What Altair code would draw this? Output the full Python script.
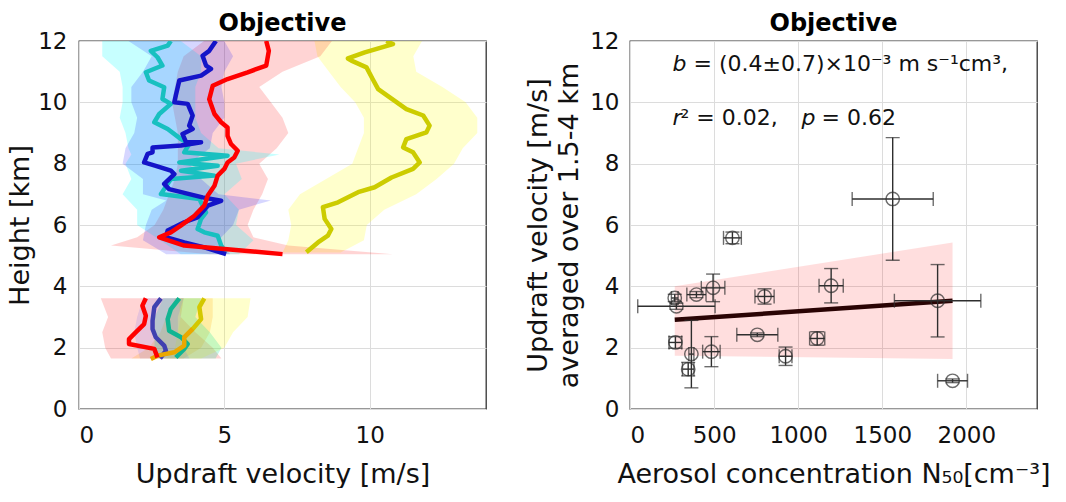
import altair as alt
import pandas as pd

# ---------------- Left panel: profiles ----------------
# upper (cloud) profiles: x = updraft velocity [m/s], y = height [km]
RU_x = [6.44,6.53,6.44,5.8,5.11,4.6,4.48,4.66,4.89,5.11,5.11,5.23,5.46,5.34,5.11,5.0,4.77,4.66,4.43,4.31,3.97,3.5,3.16,2.76,3.62,5.0,7.0]
RU_y = [12.0,11.68,11.2,10.98,10.76,10.54,10.1,9.62,9.35,9.18,8.91,8.64,8.42,8.2,8.04,7.83,7.61,7.28,6.96,6.63,6.3,5.98,5.76,5.6,5.33,5.22,5.05]
BU_x = [4.71,4.48,4.25,4.37,4.54,4.2,3.45,3.33,3.28,3.74,3.91,3.79,3.91,3.56,3.68,4.2,3.51,2.53,2.53,2.36,2.24,2.64,3.16,3.28,2.93,3.1,4.25,4.89,4.43,4.08,3.62,3.05,2.99,3.62,4.31,5.06]
BU_y = [12.0,11.68,11.52,11.2,11.09,10.87,10.71,10.22,10.0,9.95,9.57,9.24,9.13,8.97,8.7,8.7,8.59,8.53,8.37,8.32,8.04,7.93,7.77,7.66,7.34,7.17,6.9,6.79,6.63,6.25,6.09,5.82,5.6,5.43,5.27,5.05]
CU_x = [3.16,3.05,2.47,2.7,2.87,2.3,2.41,2.93,2.87,3.16,2.76,2.59,3.05,3.51,3.79,3.62,5.11,3.45,4.77,3.51,4.66,3.16,2.93,2.82,4.14,4.37,4.2,4.08,4.31,4.77,4.89,5.06]
CU_y = [12.0,11.85,11.68,11.47,11.2,10.98,10.71,10.49,10.11,9.95,9.62,9.35,9.13,8.8,8.64,8.37,8.26,8.04,7.93,7.77,7.61,7.5,7.17,7.01,6.85,6.41,6.2,5.87,5.76,5.65,5.33,5.11]
YU_x = [10.57,10.8,9.83,9.25,9.37,9.89,10.1,10.29,10.69,11.26,11.84,12.06,11.95,11.26,11.15,11.49,11.72,11.49,10.75,10.17,9.6,8.91,8.39,8.45,8.68,8.56,8.22,7.82]
YU_y = [12.0,11.9,11.63,11.43,11.36,11.14,10.76,10.43,10.16,9.78,9.57,9.24,9.02,8.8,8.53,8.37,8.04,7.83,7.55,7.23,7.07,6.74,6.58,6.2,5.87,5.65,5.43,5.11]

# lower (sub-cloud) profiles
RL_x = [2.3,2.18,2.3,2.24,1.95,1.72,1.72,2.59,2.7]
RL_y = [3.61,3.37,3.04,2.77,2.5,2.28,2.12,1.96,1.68]
BL_x = [2.82,2.59,2.53,2.53,2.64,2.93,2.99,2.79]
BL_y = [3.61,3.32,2.88,2.61,2.34,2.07,1.9,1.65]
TL_x = [3.45,3.16,3.05,3.1,3.51,3.74,3.62,3.33]
TL_y = [3.61,3.26,2.93,2.55,2.34,2.12,1.96,1.68]
YL_x = [4.31,4.14,4.2,3.91,3.62]
YL_y = [3.61,3.32,2.93,2.61,2.34]
OL_x = [3.91,3.62,3.62,3.28,2.7,2.47]
OL_y = [2.61,2.34,2.07,1.85,1.74,1.63]

# shaded spread bands (height, low, high)
RUB_y = [5.05,5.33,5.6,6.0,6.5,7.0,7.5,8.0,8.5,9.0,9.5,10.0,10.5,11.0,11.5,12.0]
RUB_lo = [4.5,1.1,2.0,2.6,2.9,3.1,3.3,3.4,3.4,3.4,3.3,3.2,3.3,3.4,3.6,4.3]
RUB_hi = [10.8,7.2,6.0,5.8,6.0,6.3,6.5,6.2,6.8,7.2,7.0,6.6,6.2,7.0,8.3,8.7]
BUB_y = [5.05,5.5,6.0,6.5,6.8,7.0,7.5,8.0,8.5,9.0,9.5,10.0,10.5,11.0,11.5,12.0]
BUB_lo = [3.0,2.2,2.3,2.5,3.0,2.2,2.2,1.5,1.6,1.9,2.0,1.8,1.8,2.2,2.5,1.7]
BUB_hi = [5.2,4.8,5.3,5.5,6.6,4.8,4.2,3.8,4.5,4.6,5.0,5.0,4.9,5.0,5.3,5.0]
CUB_y = [5.05,5.5,6.0,6.5,7.0,7.5,8.0,8.3,8.5,9.0,9.5,10.0,10.5,11.0,11.5,12.0]
CUB_lo = [3.5,2.8,2.0,2.0,1.5,1.8,1.6,1.8,1.7,1.6,1.4,1.5,1.5,1.4,0.8,0.8]
CUB_hi = [5.5,6.0,5.4,5.5,5.0,5.6,5.4,6.9,4.8,4.2,4.0,4.0,4.0,4.2,4.2,3.5]
YUB_y = [5.1,5.5,6.0,6.5,7.0,7.5,8.0,8.5,9.0,9.5,10.0,10.5,11.0,11.5,12.0]
YUB_lo = [7.0,7.2,7.3,7.2,7.6,8.5,9.4,9.6,9.8,9.8,9.5,9.0,8.6,8.2,8.1]
YUB_hi = [9.0,9.8,9.9,10.5,11.6,12.3,12.9,13.2,13.7,13.7,13.3,12.5,11.6,11.5,11.8]

LB_y = [1.65,2.0,2.5,3.0,3.61]
RLB_lo = [1.1,0.9,0.8,1.0,0.75]
RLB_hi = [4.9,4.6,4.0,3.5,3.6]
BLB_lo = [2.1,2.0,1.9,2.0,2.2]
BLB_hi = [3.8,3.6,3.4,3.4,3.6]
TLB_lo = [2.8,2.6,2.6,2.6,2.9]
TLB_hi = [4.7,4.9,4.5,4.0,4.2]
YLB_lo = [3.0,3.3,3.4,3.5,3.4]
YLB_hi = [4.2,5.0,5.3,5.8,5.9]
OLB_lo = [1.8,2.4,2.8,3.0,3.3]
OLB_hi = [3.6,4.2,4.5,4.6,4.6]

# ---------------- Right panel: scatter ----------------
N50 = [266,276,365,346,270,395,494,484,609,800,757,925,1113,1196,1562,1829,1918]
W = [3.62,3.35,1.79,1.30,2.17,3.73,3.95,1.87,5.58,3.67,2.42,1.72,2.30,4.02,6.85,3.53,0.92]
N50_ERR = [20,230,15,34,38,57,70,52,53,57,122,38,45,72,241,257,89]
W_ERR = [0.12,0.1,1.1,0.22,0.19,0.1,0.45,0.49,0.19,0.25,0.06,0.3,0.22,0.56,2.0,1.18,0.06]
FIT_X = [266,1918]
FIT_Y = [2.91,3.53]
FIT_LO = [1.74,1.63]
FIT_HI = [4.0,5.43]

ANNOT_X = 253
ANNOT_Y = [11.03, 9.26]

FONT = "DejaVu Sans"

# ---------------- scales / axes ----------------
lx = alt.Scale(domain=[0, 14], nice=False, zero=False)
ly = alt.Scale(domain=[0, 12], nice=False, zero=False)
lxa = alt.Axis(values=[0, 5, 10], title="Updraft velocity [m/s]", labelPadding=15, titlePadding=14)
lya = alt.Axis(values=[0, 2, 4, 6, 8, 10, 12], title="Height [km]", labelPadding=12, titlePadding=3)

rx = alt.Scale(domain=[0, 2420], nice=False, zero=False)
ry = alt.Scale(domain=[0, 12], nice=False, zero=False)
rxa = alt.Axis(values=[0, 500, 1000, 1500, 2000], format="d", title="Aerosol concentration N₅₀[cm⁻³]",
               labelPadding=15, titlePadding=14)
rya = alt.Axis(values=[0, 2, 4, 6, 8, 10, 12], title=["Updraft velocity [m/s]", "averaged over 1.5-4 km"],
               labelPadding=11, titlePadding=6, titleLineHeight=31)


def band(ys, lo, hi, color, op):
    df = pd.DataFrame({"y": ys, "lo": lo, "hi": hi})
    return alt.Chart(df).mark_area(orient="horizontal", color=color, opacity=op).encode(
        y=alt.Y("y:Q", scale=ly, axis=lya),
        x=alt.X("lo:Q", scale=lx, axis=lxa),
        x2="hi:Q",
    )


def line(xs, ys, color, w=4.5):
    df = pd.DataFrame({"x": xs, "y": ys, "i": list(range(len(xs)))})
    return alt.Chart(df).mark_line(color=color, strokeWidth=w, strokeJoin="round", clip=True).encode(
        x=alt.X("x:Q", scale=lx, axis=lxa),
        y=alt.Y("y:Q", scale=ly, axis=lya),
        order=alt.Order("i:Q"),
    )


TITLE = alt.TitleParams("Objective", font=FONT, fontSize=24, fontWeight="bold", offset=-6, anchor="middle")

left_layers = [
    band(YUB_y, YUB_lo, YUB_hi, "#ffff00", 0.2),
    band(RUB_y, RUB_lo, RUB_hi, "#ff0000", 0.17),
    band(CUB_y, CUB_lo, CUB_hi, "#00ffff", 0.22),
    band(BUB_y, BUB_lo, BUB_hi, "#0000ff", 0.16),
    band(LB_y, RLB_lo, RLB_hi, "#ff0000", 0.17),
    band(LB_y, YLB_lo, YLB_hi, "#ffff00", 0.2),
    band(LB_y, OLB_lo, OLB_hi, "#ffa500", 0.2),
    band(LB_y, TLB_lo, TLB_hi, "#00e090", 0.22),
    band(LB_y, BLB_lo, BLB_hi, "#6060ff", 0.15),
    line(YU_x, YU_y, "#cccc00"),
    line(CU_x, CU_y, "#18c0c0"),
    line(BU_x, BU_y, "#1414c8"),
    line(RU_x, RU_y, "#ff0000"),
    line(TL_x, TL_y, "#10b592"),
    line(BL_x, BL_y, "#4040b0"),
    line(YL_x, YL_y, "#d4c800"),
    line(OL_x, OL_y, "#eaa800"),
    line(RL_x, RL_y, "#ff0000"),
]

left = alt.layer(*left_layers).properties(width=407, height=368, title=TITLE)

# right panel
pts = pd.DataFrame({"x": N50, "y": W, "xe": N50_ERR, "ye": W_ERR})
pts["x0"] = pts["x"] - pts["xe"]
pts["x1"] = pts["x"] + pts["xe"]
pts["y0"] = pts["y"] - pts["ye"]
pts["y1"] = pts["y"] + pts["ye"]
fit = pd.DataFrame({"x": FIT_X, "y": FIT_Y, "lo": FIT_LO, "hi": FIT_HI})

EB = "#2e2e2e"
base = alt.Chart(pts)
X = alt.X("x:Q", scale=rx, axis=rxa)
Y = alt.Y("y:Q", scale=ry, axis=rya)

fit_band = alt.Chart(fit).mark_area(color="#ff0000", opacity=0.13).encode(
    x=alt.X("x:Q", scale=rx, axis=rxa), y=alt.Y("lo:Q", scale=ry, axis=rya), y2="hi:Q")
fit_line = alt.Chart(fit).mark_line(color="#2a0404", strokeWidth=4.5).encode(
    x=alt.X("x:Q", scale=rx, axis=rxa), y=alt.Y("y:Q", scale=ry, axis=rya))
hbar = base.mark_rule(color=EB, strokeWidth=1.4).encode(x=alt.X("x0:Q", scale=rx, axis=rxa), x2="x1:Q", y=Y)
vbar = base.mark_rule(color=EB, strokeWidth=1.4).encode(y=alt.Y("y0:Q", scale=ry, axis=rya), y2="y1:Q", x=X)
cap_l = base.mark_tick(orient="vertical", color=EB, size=14, thickness=1.4).encode(x=alt.X("x0:Q", scale=rx, axis=rxa), y=Y)
cap_r = base.mark_tick(orient="vertical", color=EB, size=14, thickness=1.4).encode(x=alt.X("x1:Q", scale=rx, axis=rxa), y=Y)
cap_b = base.mark_tick(orient="horizontal", color=EB, size=14, thickness=1.4).encode(y=alt.Y("y0:Q", scale=ry, axis=rya), x=X)
cap_t = base.mark_tick(orient="horizontal", color=EB, size=14, thickness=1.4).encode(y=alt.Y("y1:Q", scale=ry, axis=rya), x=X)
circ = base.mark_point(shape="circle", filled=False, color=EB, size=180, strokeWidth=1.4).encode(x=X, y=Y)

ann = pd.DataFrame({
    "x": [ANNOT_X] * 6,
    "y": [ANNOT_Y[0], ANNOT_Y[0], ANNOT_Y[1], ANNOT_Y[1], ANNOT_Y[1], ANNOT_Y[1]],
    "t": ["b", "= (0.4±0.7)×10⁻³ m s⁻¹cm³,", "r", "² = 0.02,", "p", "= 0.62"],
    "dx": [0, 21, 0, 8, 129, 149],
    "st": ["italic", "normal", "italic", "normal", "italic", "normal"],
})
texts = []
for _, r in ann.iterrows():
    texts.append(
        alt.Chart(pd.DataFrame([r])).mark_text(
            align="left", baseline="alphabetic", font=FONT, fontSize=22, fontStyle=r["st"],
            dx=int(r["dx"]), color="#111111"
        ).encode(x=alt.X("x:Q", scale=rx, axis=rxa), y=alt.Y("y:Q", scale=ry, axis=rya), text="t:N")
    )

right = alt.layer(fit_band, fit_line, hbar, vbar, cap_l, cap_r, cap_b, cap_t, circ, *texts).properties(
    width=407, height=368, title=TITLE)

chart = alt.hconcat(left, right, spacing=37).properties(
    padding={"left": 6, "top": 11, "right": 0, "bottom": 0},
    background="white",
).configure_axis(
    labelFont=FONT, labelFontSize=23, labelColor="#111111",
    titleFont=FONT, titleFontSize=27, titleFontWeight="normal", titleColor="#111111",
    gridColor="#dcdcdc", gridWidth=1, ticks=False, domain=False,
).configure_view(stroke="#333333", strokeWidth=1.3)

chart.save("out.html", embed_options={"renderer": "svg", "actions": False})
